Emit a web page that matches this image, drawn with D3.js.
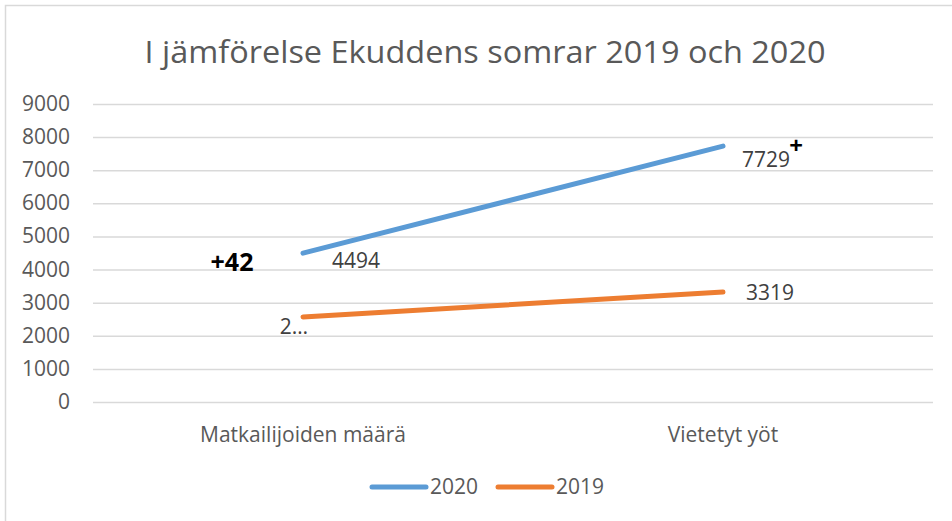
<!DOCTYPE html>
<html>
<head>
<meta charset="utf-8">
<script src="https://cdn.jsdelivr.net/npm/d3@7"></script>
<style>
  body { margin: 0; background: #fff; }
  text { font-family: "Open Sans", sans-serif; }
</style>
</head>
<body>
<div id="container"></div>
<script>
// data
let categories = ["Matkailijoiden määrä", "Vietetyt yöt"];
let seriesNames = ["2020", "2019"];
let values2020 = [4494, 7729];
let values2019 = [2570, 3319];
let labels2020 = ["4494", "7729"];
let labels2019 = ["2…", "3319"];
let yTicks = [0, 1000, 2000, 3000, 4000, 5000, 6000, 7000, 8000, 9000];
let colors = ["#5b9bd5", "#ed7d31"];

let w = 952;
let h = 521;
let plotLeft = 93, plotRight = 933, plotTop = 104, plotBottom = 402;

let viz = d3.select("#container")
  .append("svg")
  .attr("width", w)
  .attr("height", h);

// outer frame (cropped on right/bottom)
viz.append("rect")
  .attr("x", 5.5).attr("y", 5.5)
  .attr("width", 1000).attr("height", 700)
  .attr("fill", "#fff")
  .attr("stroke", "#d9d9d9")
  .attr("stroke-width", 1.5);

// title
viz.append("text")
  .attr("x", 485).attr("y", 63)
  .attr("text-anchor", "middle")
  .attr("fill", "#595959")
  .style("font-size", "31px")
  .attr("textLength", 681)
  .attr("lengthAdjust", "spacingAndGlyphs")
  .text("I jämförelse Ekuddens somrar 2019 och 2020");

let xScale = d3.scalePoint().domain(categories).range([plotLeft, plotRight]).padding(0.5);
let yScale = d3.scaleLinear().domain([0, 9000]).range([plotBottom, plotTop]);

// gridlines
viz.append("g")
  .selectAll("line")
  .data(yTicks)
  .enter()
  .append("line")
  .attr("x1", plotLeft).attr("x2", plotRight)
  .attr("y1", d => yScale(d) + 0.5).attr("y2", d => yScale(d) + 0.5)
  .attr("stroke", "#d9d9d9")
  .attr("stroke-width", 1.5);

// y labels
viz.append("g")
  .selectAll("text")
  .data(yTicks)
  .enter()
  .append("text")
  .attr("x", 70)
  .attr("y", d => yScale(d) + 7)
  .attr("text-anchor", "end")
  .attr("fill", "#595959")
  .style("font-size", "21px")
  .text(d => d);

// x labels
viz.append("g")
  .selectAll("text")
  .data(categories)
  .enter()
  .append("text")
  .attr("x", d => xScale(d))
  .attr("y", 442)
  .attr("text-anchor", "middle")
  .attr("fill", "#595959")
  .style("font-size", "21px")
  .text(d => d);

// lines
let series = [values2020, values2019];
let lineMaker = d3.line()
  .x((d, i) => xScale(categories[i]))
  .y(d => yScale(d));

viz.append("g")
  .selectAll("path")
  .data(series)
  .enter()
  .append("path")
  .attr("d", lineMaker)
  .attr("fill", "none")
  .attr("stroke", (d, i) => colors[i])
  .attr("stroke-width", 5)
  .attr("stroke-linecap", "round");

// data labels
let labelOffsets = [
  [[29, 15, "start"], [19, 21, "start"]],
  [[5, 17, "end"], [23, 8, "start"]]
];
let labelTexts = [labels2020, labels2019];
series.forEach(function(vals, s) {
  vals.forEach(function(v, i) {
    let off = labelOffsets[s][i];
    viz.append("text")
      .attr("x", xScale(categories[i]) + off[0])
      .attr("y", yScale(v) + off[1])
      .attr("text-anchor", off[2])
      .attr("fill", "#404040")
      .style("font-size", "21px")
      .text(labelTexts[s][i]);
  });
});

// annotations
viz.append("text")
  .attr("x", 232).attr("y", 271)
  .attr("text-anchor", "middle")
  .attr("fill", "#000")
  .style("font-size", "25px")
  .style("font-weight", "bold")
  .text("+42");
viz.append("text")
  .attr("x", 796).attr("y", 154)
  .attr("text-anchor", "middle")
  .attr("fill", "#000")
  .style("font-size", "24px")
  .style("font-weight", "bold")
  .text("+");

// legend
let legend = viz.append("g")
  .selectAll("g")
  .data(seriesNames)
  .enter()
  .append("g")
  .attr("transform", (d, i) => "translate(" + (372 + i * 126) + ",487)");
legend.append("line")
  .attr("x1", 0).attr("x2", 54)
  .attr("stroke", (d, i) => colors[i])
  .attr("stroke-width", 5)
  .attr("stroke-linecap", "round");
legend.append("text")
  .attr("x", 58).attr("y", 7)
  .attr("fill", "#595959")
  .style("font-size", "21px")
  .text(d => d);
</script>
</body>
</html>
